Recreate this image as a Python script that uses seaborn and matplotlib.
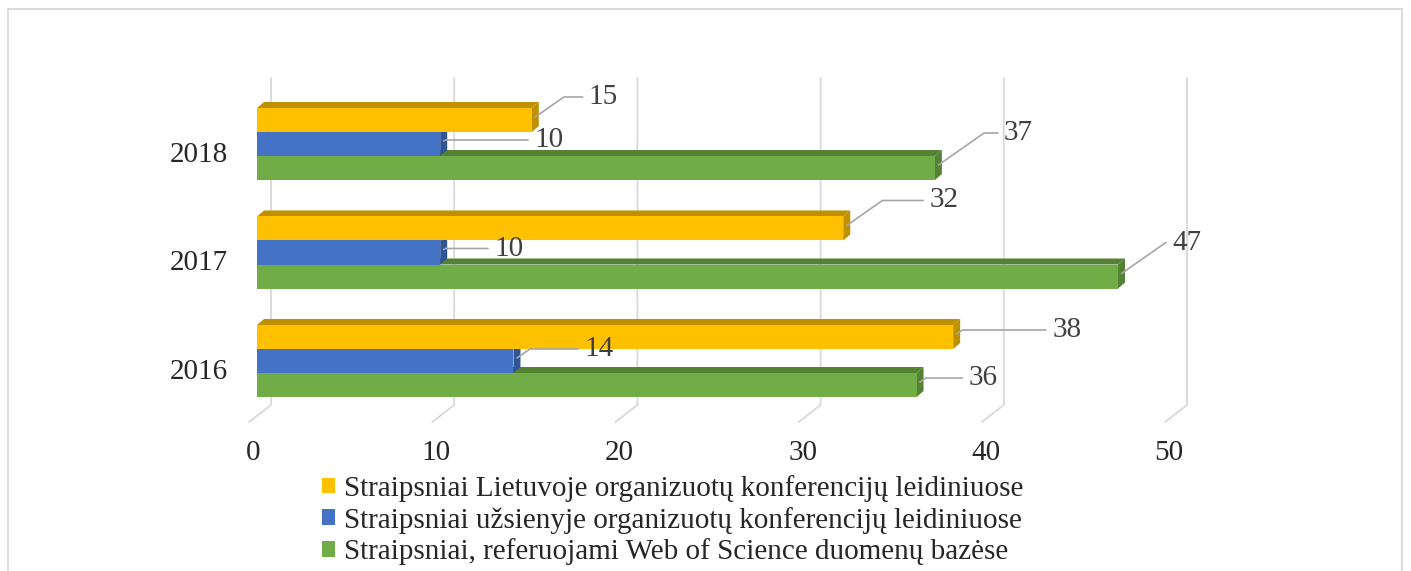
import matplotlib
matplotlib.use("Agg")
import matplotlib.pyplot as plt
import matplotlib.transforms as mtransforms
from matplotlib.patches import Patch, Polygon, Rectangle
import pandas as pd
import seaborn as sns

# data
years = ["2018", "2017", "2016"]
series = [
    "Straipsniai Lietuvoje organizuotų konferencijų leidiniuose",
    "Straipsniai užsienyje organizuotų konferencijų leidiniuose",
    "Straipsniai, referuojami Web of Science duomenų bazėse",
]
lietuvoje = [15, 32, 38]
uzsienyje = [10, 10, 14]
wos = [37, 47, 36]
x_ticks = [0, 10, 20, 30, 40, 50]

colors = ["#FFC000", "#4472C4", "#70AD47"]
shade = ["#BF9000", "#2F5597", "#548235"]

# label offsets (px) from bar end, per series / year
label_off = {
    0: [(68, -20), (97, -25), (110, -4)],
    1: [(105, -1), (65, -1), (82, -9)],
    2: [(80, -32), (65, -31), (63, -4)],
}

rows = []
for s, vals in zip(series, [lietuvoje, uzsienyje, wos]):
    for y, v in zip(years, vals):
        rows.append({"year": y, "series": s, "value": v})
df = pd.DataFrame(rows)

sns.set_style("white")
plt.rcParams["font.family"] = ["Liberation Serif", "DejaVu Serif"]
FS = 21

W, H = 1411, 571
fig = plt.figure(figsize=(W / 100, H / 100), dpi=100)
ax_left, ax_right, ax_top, ax_bot = 257, 1173, 78, 421
ax = fig.add_axes([ax_left / W, 1 - ax_bot / H, (ax_right - ax_left) / W, (ax_bot - ax_top) / H])

sns.barplot(data=df, y="year", x="value", hue="series", order=years, hue_order=series,
            palette=colors, orient="h", width=0.664, saturation=1, legend=False,
            linewidth=0, ax=ax, zorder=2)

ax.set_xlim(0, 50)
px_x = 50 / (ax_right - ax_left)          # data units per pixel (x)
cat_px = 108.5                             # pixels between categories
ax.set_ylim((ax_bot - 144) / cat_px, -(144 - ax_top) / cat_px)
px_y = 1 / cat_px

# back wall gridlines + floor
bend = (ax_bot - 405) / (ax_bot - ax_top)
gtrans = mtransforms.blended_transform_factory(ax.transData, ax.transAxes)
for v in x_ticks:
    ax.plot([v + 14 * px_x, v + 14 * px_x, v - 8 * px_x], [1.0, bend, -0.003],
            color="#d9d9d9", lw=1.3, transform=gtrans, clip_on=False, zorder=0)

# pseudo 3D faces (top and end)
dx, dy = 7 * px_x, 6 * px_y
rgba = [tuple(round(k, 3) for k in matplotlib.colors.to_rgba(c)) for c in colors]
bars = sorted(list(ax.patches), key=lambda p: -p.get_y())
for p in bars:
    x1 = p.get_width()
    if x1 <= 0:
        continue
    yt = p.get_y()
    yb = yt + p.get_height()
    idx = rgba.index(tuple(round(k, 3) for k in p.get_facecolor()))
    top = Polygon([(0, yt), (x1, yt), (x1 + dx, yt - dy), (dx, yt - dy)],
                  closed=True, fc=shade[idx], ec="none", zorder=1)
    side = Polygon([(x1, yt), (x1 + dx, yt - dy), (x1 + dx, yb - dy), (x1, yb)],
                   closed=True, fc=shade[idx], ec="none", zorder=1)
    ax.add_patch(top)
    ax.add_patch(side)

# value labels with leader lines
for si, vals in enumerate([lietuvoje, uzsienyje, wos]):
    for yi, v in enumerate(vals):
        yc = yi + (si - 1) * 0.664 / 3
        ox, oy = label_off[si][yi]
        ax.annotate(str(v), xy=(v + 0.5 * dx, yc - 0.5 * dy), xytext=(ox * 0.72, -oy * 0.72),
                    textcoords="offset points", ha="center", va="center",
                    fontsize=FS, color="#404040", zorder=5,
                    arrowprops=dict(arrowstyle="-", color="#a6a6a6", lw=1.2,
                                    shrinkA=2, shrinkB=0,
                                    connectionstyle="angle,angleA=0,angleB=35,rad=0"))

ax.set_xticks(x_ticks)
ax.set_xticklabels([str(t) for t in x_ticks], fontsize=FS)
ax.tick_params(axis="x", length=0, pad=14)
ax.tick_params(axis="y", length=0, pad=21, labelsize=FS)
for lab in ax.get_yticklabels():
    lab.set_transform(lab.get_transform() + mtransforms.ScaledTranslation(0, -8 / 100, fig.dpi_scale_trans))
for lab in ax.get_xticklabels():
    lab.set_transform(lab.get_transform() + mtransforms.ScaledTranslation(-4 / 100, 0, fig.dpi_scale_trans))
ax.set_xlabel("")
ax.set_ylabel("")
for sp in ax.spines.values():
    sp.set_visible(False)
ax.patch.set_alpha(0)

handles = [Patch(facecolor=c, edgecolor="none") for c in colors]
fig.legend(handles, series, loc="upper left", bbox_to_anchor=(322 / W, 1 - 475 / H),
           frameon=False, fontsize=FS, handlelength=0.45, handleheight=0.45,
           handletextpad=0.3, labelspacing=0.16, borderpad=0, borderaxespad=0)

fig.patches.append(Rectangle((8 / W, -0.02), (1402 - 8) / W, 1.02 - 9 / H,
                             transform=fig.transFigure, fill=False,
                             ec="#d9d9d9", lw=1.3))

fig.savefig("out.png", dpi=100)
